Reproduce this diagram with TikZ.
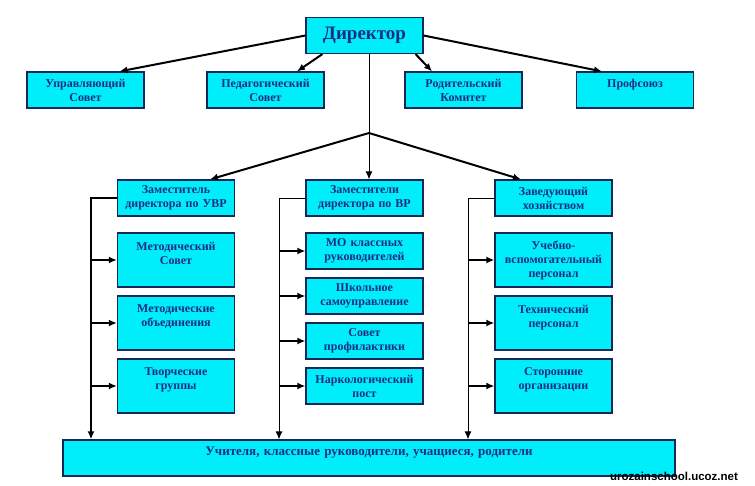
\documentclass[tikz,border=0pt]{standalone}
\usepackage{fontspec}
\setmainfont{Liberation Serif}
\setsansfont{Liberation Sans}
\usepackage{tikz}
\usetikzlibrary{arrows.meta}
\definecolor{boxfill}{RGB}{0,238,250}
\definecolor{boxline}{RGB}{20,40,90}
\definecolor{boxtext}{RGB}{25,45,130}
\tikzset{
    orgbox/.style={shape=rectangle, draw=boxline, fill=boxfill, line width=1.2pt,
        text=boxtext, font=\bfseries\fontsize{12}{14}\selectfont, align=center,
        text width=114pt, minimum width=117pt, minimum height=36pt, inner sep=0pt},
    tallbox/.style={orgbox, minimum height=54pt},
    link/.style={line width=1pt},
    branch/.style={->, line width=2.2pt}}

\begin{document}
\begin{tikzpicture}[x=1pt, y=-1pt, >={Latex[length=8pt,width=7pt]}]

            \useasboundingbox (0,0) rectangle (755,485);

            % top level
            \node[orgbox, font=\bfseries\fontsize{19}{21}\selectfont] (dir) at (364.5,35.5) {Директор};
            \node[orgbox] (upr) at (85.5,90) {Управляющий\\Совет};
            \node[orgbox] (ped) at (265.5,90) {Педагогический\\Совет};
            \node[orgbox] (rod) at (463.5,90) {Родительский\\Комитет};
            \node[orgbox] (prof) at (635,90) {Профсоюз\\\mbox{}};

            % deputies
            \node[orgbox] (uvr) at (176,198) {Заместитель\\директора по УВР};
            \node[orgbox] (vr) at (364.5,198) {Заместители\\директора по ВР};
            \node[orgbox] (hoz) at (553.5,198) {Заведующий\\хозяйством};

            \node[tallbox] (msov) at (176,260) {Методический\\Совет\\\mbox{}};
            \node[tallbox] (mobj) at (176,323) {Методические\\объединения\\\mbox{}};
            \node[tallbox] (tvor) at (176,386) {Творческие\\группы\\\mbox{}};

            \node[orgbox] (mokl) at (364.5,251) {МО классных\\руководителей};
            \node[orgbox] (shk) at (364.5,296) {Школьное\\самоуправление};
            \node[orgbox] (prof2) at (364.5,341) {Совет\\профилактики};
            \node[orgbox] (nark) at (364.5,386) {Наркологический\\пост};

            \node[tallbox] (ucheb) at (553.5,260) {Учебно-\\вспомогательный\\персонал};
            \node[tallbox] (tehn) at (553.5,323) {Технический\\персонал\\\mbox{}};
            \node[tallbox] (stor) at (553.5,386) {Сторонние\\организации\\\mbox{}};

            \node[orgbox, minimum width=612pt, text width=600pt, font=\bfseries\fontsize{13}{14}\selectfont] (all) at (369,458) {Учителя, классные руководители, учащиеся, родители\\\mbox{}};

            \coordinate (j) at (369,133);
            \coordinate (busA) at (91,198);
            \coordinate (busB) at (279,198);
            \coordinate (busC) at (468,198);

            % director links
            \draw[->, line width=2pt] (dir.west) -- ([xshift=34pt]upr.north);
            \draw[->, line width=2pt] ([xshift=17pt]dir.south west) -- ([xshift=31.5pt]ped.north);
            \draw[->, line width=2pt] ([xshift=-8pt]dir.south east) -- ([xshift=-31.5pt]rod.north);
            \draw[->, line width=2pt] (dir.east) -- ([xshift=-33pt]prof.north);
            \draw[link] (dir.south -| j) -- (j);
            \draw[->, line width=2pt] (j) -- ([xshift=34pt]uvr.north);
            \draw[->, link] (j) -- (j |- vr.north);
            \draw[->, line width=2pt] (j) -- ([xshift=-32.5pt]hoz.north);

            % buses
            \draw[->, line width=2pt] (uvr.west) -- (busA) -- (busA |- all.north);
            \draw[->, link] (vr.west) -- (busB) -- (busB |- all.north);
            \draw[->, link] (hoz.west) -- (busC) -- (busC |- all.north);

            \draw[branch] (busA |- msov.west) -- (msov.west);
            \draw[branch] (busA |- mobj.west) -- (mobj.west);
            \draw[branch] (busA |- tvor.west) -- (tvor.west);
            \draw[branch] (busB |- mokl.west) -- (mokl.west);
            \draw[branch] (busB |- shk.west) -- (shk.west);
            \draw[branch] (busB |- prof2.west) -- (prof2.west);
            \draw[branch] (busB |- nark.west) -- (nark.west);
            \draw[branch] (busC |- ucheb.west) -- (ucheb.west);
            \draw[branch] (busC |- tehn.west) -- (tehn.west);
            \draw[branch] (busC |- stor.west) -- (stor.west);

            \node[font=\sffamily\bfseries\fontsize{11.5}{12}\selectfont, inner sep=0pt] (site) at (674,476) {urozainschool.ucoz.net};

        \end{tikzpicture}
\end{document}
